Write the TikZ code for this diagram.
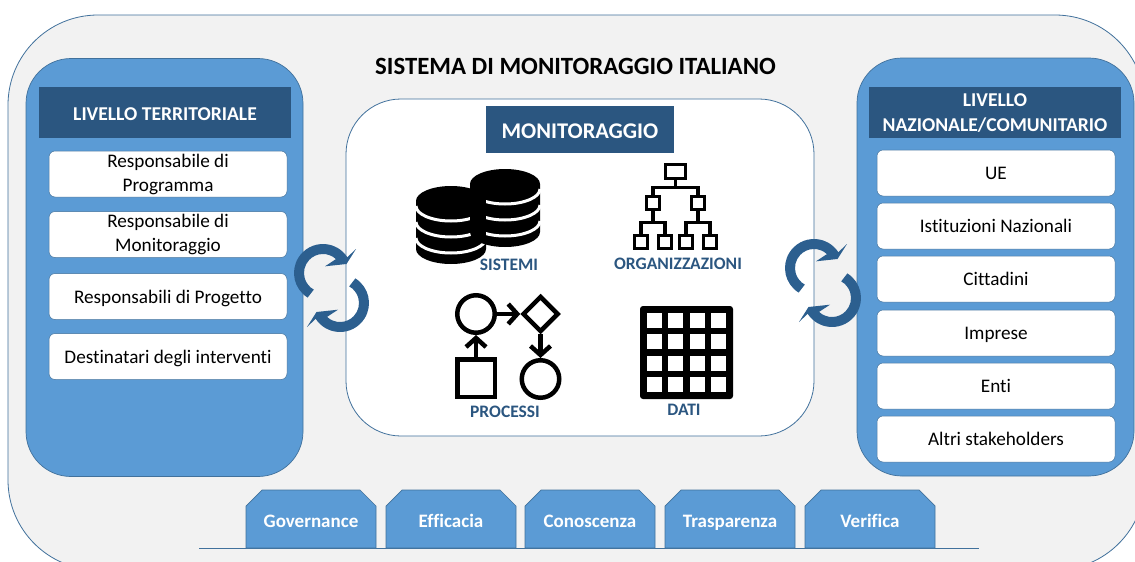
\documentclass[tikz,border=0pt]{standalone}
\usepackage{fontspec}
\setmainfont[Ligatures=NoCommon]{Carlito}
\usetikzlibrary{shapes.geometric,shapes.misc,arrows.meta}
\definecolor{panelblue}{HTML}{5B9BD5}
\definecolor{headblue}{HTML}{2B5680}
\definecolor{edgeblue}{HTML}{41719C}
\definecolor{arrowblue}{HTML}{2C5F8F}
\definecolor{outergray}{HTML}{F2F2F2}
\begin{document}
\begin{tikzpicture}[
  x=1pt, y=-1pt,
  outerbox/.style={draw=edgeblue, fill=outergray, line width=0.8pt, rounded corners=90pt, minimum width=1137pt, minimum height=555pt, inner sep=0pt},
  panel/.style={draw=edgeblue, fill=panelblue, line width=0.7pt, rounded corners=45pt, minimum width=277pt, minimum height=418pt, inner sep=0pt},
  centerbox/.style={draw=edgeblue, fill=white, line width=0.8pt, rounded corners=55pt, minimum width=468pt, minimum height=337pt, inner sep=0pt},
  headbox/.style={fill=headblue, text=white, minimum width=252pt, minimum height=51pt, inner sep=0pt, align=center, text depth=0pt, font=\fontsize{19.6}{25}\selectfont\bfseries},
  itembox/.style={draw=edgeblue, fill=white, line width=0.5pt, rounded corners=6pt, minimum width=238pt, minimum height=46pt, inner sep=0pt, align=center, font=\fontsize{19.2}{24}\selectfont},
  itemline/.style={itembox, text height=13pt, text depth=0pt},
  tabbox/.style={draw=edgeblue, fill=panelblue, text=white, line width=0.7pt, chamfered rectangle, chamfered rectangle corners={north west,north east}, chamfered rectangle sep=8pt, minimum width=130pt, minimum height=58pt, inner sep=0pt, text height=17pt, text depth=0pt, font=\fontsize{19}{20}\selectfont\bfseries},
  iconlabel/.style={text=headblue, inner sep=0pt, text height=11pt, text depth=0pt, font=\fontsize{17.5}{18}\selectfont\bfseries},
  orgbig/.style={draw=black, line width=3.2pt, minimum width=20.5pt, minimum height=14.5pt, inner sep=0pt},
  orgsmall/.style={draw=black, line width=3.2pt, minimum size=13pt, inner sep=0pt},
  orgedge/.style={edge from parent path={(\tikzparentnode.south) -- ++(0pt,-#1) -| (\tikzchildnode.north)}},
  level 1/.style={level distance=31.5pt, sibling distance=45pt, orgedge=7.5pt},
  level 2/.style={level distance=39pt, sibling distance=24pt, orgedge=11.5pt},
  edge from parent/.style={draw, line width=3.2pt},
  procshape/.style={draw=black, line width=4.5pt, inner sep=0pt},
  procarrow/.style={draw=black, line width=4.5pt, -{Straight Barb[length=9pt,width=20pt]}},
  pics/cyclearrow/.style={code={
    \fill[arrowblue, x=1pt, y=1pt] (238:29) arc[start angle=238, end angle=33, radius=29] -- (33,24) -- (23.5,9) -- (2,6.7) -- (47:19) arc[start angle=47, end angle=241, radius=19] -- cycle;
  }},
  pics/dbcylinder/.style={code={
    \fill[black, x=1pt, y=1pt] (-35,0) -- (-35,-48) arc[start angle=180, end angle=360, x radius=35, y radius=15] -- (35,0) arc[start angle=0, end angle=180, x radius=35, y radius=15] -- cycle;
    \begin{scope}[x=1pt, y=1pt]
      \clip (#1,-80) rectangle (40,20);
      \foreach \band in {-5,-21,-37}
        \draw[white, line width=3pt] (-35,\band) arc[start angle=180, end angle=360, x radius=35, y radius=15];
    \end{scope}
  }}
  ]
  \useasboundingbox (0,0) rectangle (1135,562);
  \clip (0,0) rectangle (1135,562);
  \fill[white] (0,0) rectangle (1135,562);

  \node[outerbox] (sistema) at (576.5,292.5) {};
  \node[inner sep=0pt, font=\fontsize{24.8}{26}\selectfont\bfseries] (titolo) at (575.5,66) {SISTEMA DI MONITORAGGIO ITALIANO};

  \node[panel] (territoriale) at (164.5,267.5) {};
  \node[headbox, text height=15pt] (headterr) at (165,112.5) {LIVELLO TERRITORIALE};
  \node[itembox] (progr) at (168,174) {Responsabile di\\Programma};
  \node[itembox] (monit) at (168,234.5) {Responsabile di\\Monitoraggio};
  \node[itemline] (proget) at (168,296.5) {Responsabili di Progetto};
  \node[itemline] (destin) at (168,356.5) {Destinatari degli interventi};

  \node[panel] (nazionale) at (995.5,267) {};
  \node[headbox, text height=37pt] (headnaz) at (995,112.5) {LIVELLO\\NAZIONALE/COMUNITARIO};
  \node[itemline] (ue) at (996,173) {UE};
  \node[itemline] (istit) at (996,226) {Istituzioni Nazionali};
  \node[itemline] (citt) at (996,279) {Cittadini};
  \node[itemline] (impr) at (996,333) {Imprese};
  \node[itemline] (enti) at (996,386) {Enti};
  \node[itemline] (altri) at (996,439) {Altri stakeholders};

  \node[centerbox] (monitoraggio) at (580,267.5) {};
  \node[headbox, minimum width=188pt, minimum height=47pt, text height=18pt, font=\fontsize{22.4}{24}\selectfont\bfseries] (headmon) at (580,129.5) {MONITORAGGIO};

  \pic at (451,201) {dbcylinder=-40};
  \pic at (505,184) {dbcylinder=-19};
  \node[iconlabel] (labsistemi) at (509,265) {SISTEMI};

  \node[orgbig] (orgroot) at (675.5,171.5) {}
    child {node[orgsmall] (orgleft) {}
      child {node[orgsmall] (orga) {}}
      child {node[orgsmall] (orgb) {}}}
    child {node[orgsmall] (orgright) {}
      child {node[orgsmall] (orgc) {}}
      child {node[orgsmall] (orgd) {}}};
  \node[iconlabel] (labsorg) at (678,264) {ORGANIZZAZIONI};

  \node[procshape, circle, minimum size=37.5pt] (proccircle) at (476,314) {};
  \node[procshape, diamond, aspect=1, minimum size=36pt] (procdiamond) at (540.5,314) {};
  \node[procshape, minimum size=37.5pt] (procsquare) at (476,378) {};
  \node[procshape, circle, minimum size=37.5pt] (procend) at (540.5,379) {};
  \draw[procarrow] (procsquare) -- (proccircle);
  \draw[procarrow] (proccircle) -- (procdiamond);
  \draw[procarrow] (procdiamond) -- (procend);
  \node[iconlabel] (labproc) at (505,412) {PROCESSI};

  \fill[black, rounded corners=3pt] (640,306) rectangle (733,399);
  \foreach \col in {0,...,3}
    \foreach \row in {0,...,3}
      \fill[white] ({647+21.4*\col},{313+21.4*\row}) rectangle ++(15,15);
  \node[iconlabel] (labdati) at (684,410) {DATI};

  \pic at (323,273) {cyclearrow};
  \pic[rotate=180] at (340,303) {cyclearrow};
  \pic at (814,268) {cyclearrow};
  \pic[rotate=180] at (832,298) {cyclearrow};

  \coordinate (basestart) at (199,548);
  \coordinate (baseend) at (979,548);
  \draw[edgeblue, line width=1pt] (basestart) -- (baseend);
  \node[tabbox] (governance) at (311,519) {Governance};
  \node[tabbox] (efficacia) at (451,519) {Efficacia};
  \node[tabbox] (conoscenza) at (590,519) {Conoscenza};
  \node[tabbox] (trasparenza) at (730,519) {Trasparenza};
  \node[tabbox] (verifica) at (870,519) {Verifica};
\end{tikzpicture}
\end{document}
